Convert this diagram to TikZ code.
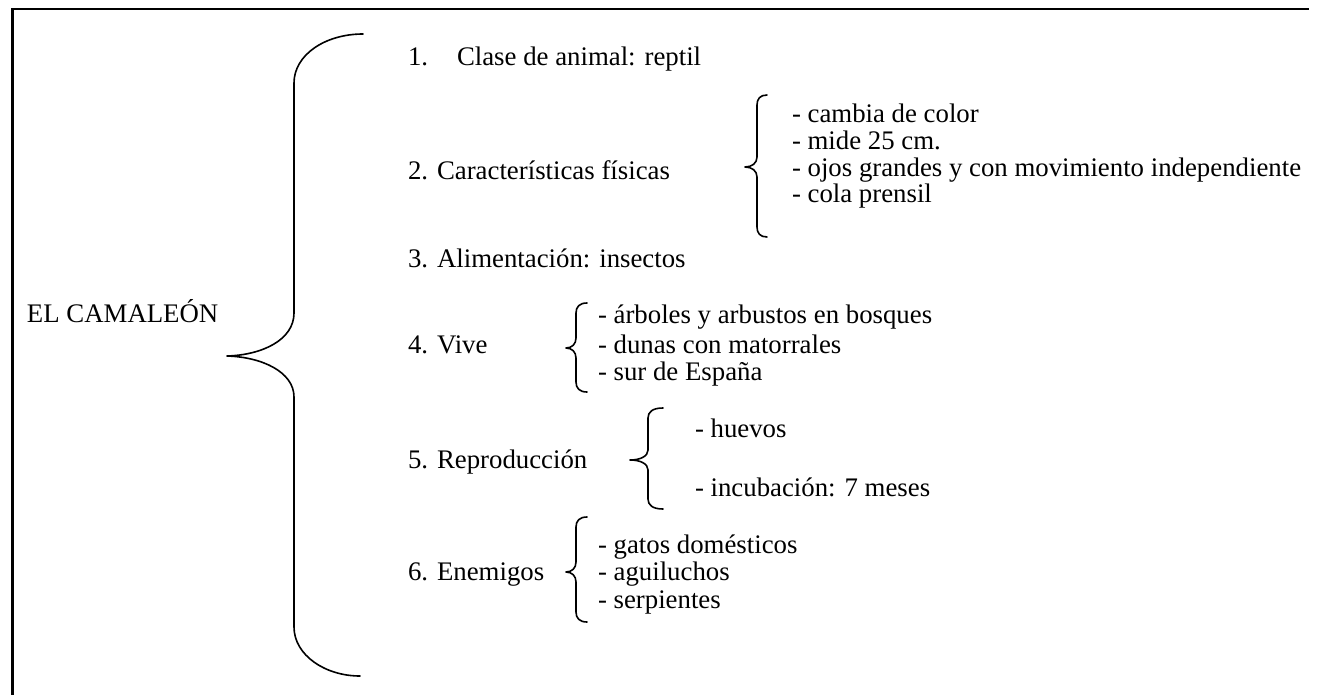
\documentclass[tikz,border=0pt]{standalone}
\usepackage{fontspec}
\setmainfont{Liberation Serif}
% #1 x of vertical, #2 y top, #3 y tip, #4 y bottom, #5 x tip, #6 x of hook ends
\newcommand\mybrace[6]{%
  \draw[bracestyle] (#6,#2) .. controls ({#1+0.3*(#6-#1)},#2) and (#1,{#2+4}) .. (#1,{#2+10})
    -- (#1,{#3-10}) .. controls (#1,{#3-4}) and ({#1-0.4*(#1-#5)},#3) .. (#5,#3)
    .. controls ({#1-0.4*(#1-#5)},#3) and (#1,{#3+4}) .. (#1,{#3+10})
    -- (#1,{#4-10}) .. controls (#1,{#4-4}) and ({#1+0.3*(#6-#1)},#4) .. (#6,#4);}
\begin{document}
\begin{tikzpicture}[x=1pt,y=-1pt,
  every node/.style={inner sep=0pt, outer sep=0pt, anchor=base west,
    font=\fontsize{26.8}{28}\selectfont},
  bracestyle/.style={line width=1.6pt, line cap=round, line join=round},
  framestyle/.style={line width=2.2pt}]
\useasboundingbox (0,0) rectangle (1319,695);
\fill[white] (0,0) rectangle (1319,695);
\draw[framestyle] (12.5,695) -- (12.5,9) -- (1309,9);

% main brace
\draw[bracestyle] (363,34) .. controls (325,34) and (294,55) .. (294,83)
  -- (294,313) .. controls (294,340) and (262,355) .. (227,356)
  .. controls (262,357) and (294,372) .. (294,397)
  -- (294,627) .. controls (294,655) and (325,676) .. (360,676);

% sub braces
\mybrace{757}{95}{167}{237}{745}{767}
\mybrace{576}{303}{348}{392}{566}{587}
\mybrace{648}{408}{460}{509}{630}{663}
\mybrace{576}{517}{572}{622}{566}{587}

\node (root) at (27,322) {EL CAMALEÓN};

\node (n1) at (408,66) {1.};
\node (c1) at (457,66) {Clase de animal: reptil};
\node (c2) at (408,180) {2. Características físicas};
\node (c3) at (408,267) {3. Alimentación: insectos};
\node (c4) at (408,353) {4. Vive};
\node (c5) at (408,468) {5. Reproducción};
\node (c6) at (408,580) {6. Enemigos};

\node (s2a) at (792,123) {- cambia de color};
\node (s2b) at (792,150) {- mide 25 cm.};
\node (s2c) at (792,177) {- ojos grandes y con movimiento independiente};
\node (s2d) at (792,203) {- cola prensil};

\node (s4a) at (598,323) {- árboles y arbustos en bosques};
\node (s4b) at (598,353) {- dunas con matorrales};
\node (s4c) at (598,380) {- sur de España};

\node (s5a) at (695,437) {- huevos};
\node (s5b) at (695,496) {- incubación: 7 meses};

\node (s6a) at (598,553) {- gatos domésticos};
\node (s6b) at (598,580) {- aguiluchos};
\node (s6c) at (598,608) {- serpientes};
\end{tikzpicture}
\end{document}
